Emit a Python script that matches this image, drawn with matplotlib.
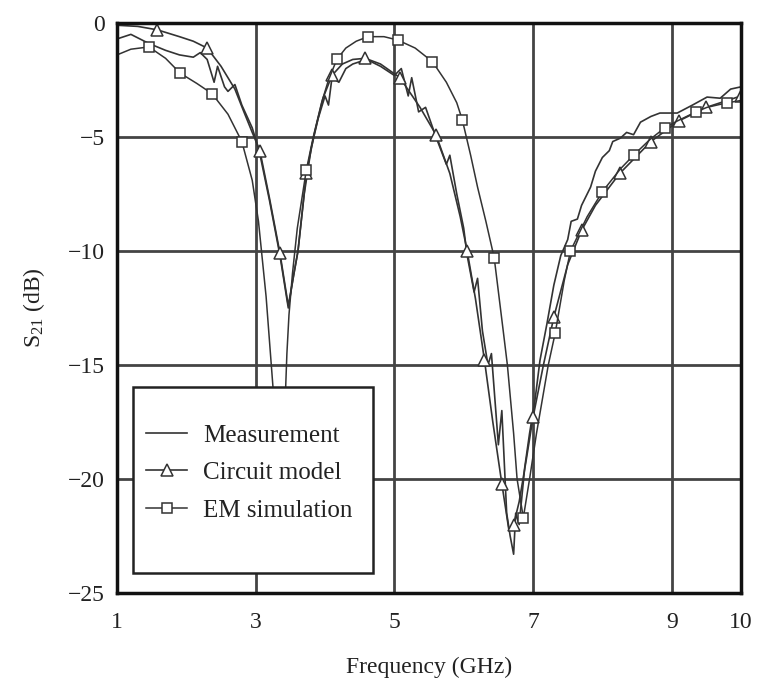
import matplotlib
matplotlib.use("Agg")
import matplotlib.pyplot as plt
from matplotlib.patches import Rectangle

# Measured S21 (noisy curve)
meas_f = [1.0, 1.2, 1.46, 1.7, 1.9, 2.1, 2.2, 2.3, 2.4, 2.45, 2.55, 2.6, 2.7, 2.8, 2.95,
          3.05, 3.2, 3.35, 3.47, 3.55, 3.61, 3.7, 3.8, 3.9, 4.0, 4.05, 4.1, 4.2, 4.3, 4.4,
          4.6, 4.8, 5.0, 5.1, 5.2, 5.25, 5.35, 5.45, 5.6, 5.75, 5.8, 5.9, 6.0, 6.05, 6.15,
          6.2, 6.27, 6.35, 6.4, 6.5, 6.55, 6.62, 6.67, 6.72, 6.75, 6.8, 6.88, 6.95, 7.03,
          7.1, 7.2, 7.3, 7.4, 7.5, 7.55, 7.64, 7.7, 7.83, 7.9, 8.0, 8.1, 8.15, 8.26, 8.35,
          8.45, 8.55, 8.7, 8.83, 9.08, 9.3, 9.51, 9.7, 9.85, 10.0]
meas_db = [-0.7, -0.5, -0.9, -1.2, -1.4, -1.5, -1.3, -1.6, -2.6, -1.9, -2.8, -3.0, -2.7, -3.6, -4.6,
           -5.6, -7.8, -10.2, -12.5, -11.0, -10.0, -7.5, -5.5, -4.2, -3.2, -3.6, -2.4, -2.6, -2.0, -1.8,
           -1.6, -1.9, -2.3, -2.0, -3.2, -2.4, -3.9, -3.7, -5.0, -6.2, -5.8, -7.5, -9.0, -10.2, -11.8,
           -11.2, -13.5, -15.0, -14.5, -18.5, -17.0, -21.5, -22.5, -23.3, -21.5, -22.0, -19.5, -18.0, -16.5,
           -14.8, -13.2, -11.5, -10.2, -9.5, -8.7, -8.6, -8.0, -7.2, -6.5, -5.9, -5.6, -5.2, -5.05, -4.8,
           -4.9, -4.35, -4.1, -3.95, -3.95, -3.6, -3.25, -3.3, -2.9, -2.8]

# Circuit model
circ_f = [1.0, 1.3, 1.58, 1.9, 2.1, 2.3, 2.5, 2.7, 2.83, 2.95, 3.06, 3.2, 3.35, 3.47, 3.54,
          3.61, 3.73, 3.85, 3.97, 4.1, 4.25, 4.4, 4.58, 4.8, 5.08, 5.37, 5.6, 5.8, 5.95, 6.05,
          6.17, 6.3, 6.42, 6.55, 6.65, 6.72, 6.8, 6.9, 7.0, 7.15, 7.3, 7.5, 7.7, 7.9, 8.25,
          8.7, 9.1, 9.5, 10.0]
circ_db = [-0.1, -0.15, -0.3, -0.6, -0.8, -1.1, -1.9, -2.9, -3.9, -4.8, -5.6, -7.7, -10.1, -12.4, -11.2,
           -10.0, -6.6, -4.8, -3.3, -2.3, -1.8, -1.6, -1.55, -1.8, -2.4, -3.7, -4.9, -6.6, -8.5, -10.0,
           -12.1, -14.8, -17.5, -20.2, -22.2, -22.0, -21.0, -19.2, -17.3, -15.0, -12.9, -10.6, -9.1, -8.0, -6.6,
           -5.2, -4.3, -3.7, -3.2]
circ_marks = [2, 5, 10, 12, 16, 19, 22, 24, 26, 29, 31, 33, 35, 38, 40, 42, 44, 45, 46, 47, 48]

# EM simulation
em_f = [1.0, 1.2, 1.46, 1.7, 1.91, 2.15, 2.37, 2.6, 2.8, 2.95, 3.04, 3.15, 3.25, 3.34, 3.42,
        3.45, 3.48, 3.53, 3.6, 3.73, 3.83, 3.95, 4.05, 4.17, 4.3, 4.45, 4.62, 4.85, 5.05, 5.3,
        5.55, 5.75, 5.9, 5.98, 6.1, 6.2, 6.32, 6.44, 6.57, 6.63, 6.72, 6.77, 6.86, 6.95, 7.05,
        7.22, 7.32, 7.45, 7.54, 7.78, 8.0, 8.26, 8.45, 8.69, 8.9, 9.08, 9.35, 9.51, 9.8, 10.0]
em_db = [-1.4, -1.15, -1.05, -1.55, -2.2, -2.65, -3.1, -4.0, -5.2, -6.9, -8.7, -12.0, -16.0, -19.0, -17.0,
         -14.5, -12.8, -11.0, -9.0, -6.45, -5.0, -3.5, -2.5, -1.6, -1.1, -0.8, -0.6, -0.6, -0.75, -1.1,
         -1.7, -2.6, -3.5, -4.25, -5.8, -7.2, -8.7, -10.3, -13.5, -15.0, -18.0, -20.0, -21.7, -20.0, -18.0,
         -15.0, -13.6, -11.3, -10.0, -8.5, -7.4, -6.4, -5.8, -5.1, -4.6, -4.3, -3.9, -3.7, -3.5, -3.4]
em_marks = [2, 4, 6, 8, 19, 23, 26, 28, 30, 33, 37, 42, 46, 48, 50, 52, 54, 56, 58]

x_ticks = [1, 3, 5, 7, 9, 10]
y_ticks = [0, -5, -10, -15, -20, -25]

plt.rcParams["font.family"] = ["Liberation Serif", "DejaVu Serif"]
plt.rcParams["mathtext.default"] = "regular"

fig = plt.figure(figsize=(7.57, 6.9), dpi=100)
ax = fig.add_axes([0.1546, 0.1406, 0.8243, 0.8261])

lc = "#333333"
ax.plot(meas_f, meas_db, color=lc, lw=1.2, label="Measurement")
ax.plot(circ_f, circ_db, color=lc, lw=1.2, marker="^", markevery=circ_marks, ms=8,
        mfc="white", mec=lc, mew=1.1, label="Circuit model")
ax.plot(em_f, em_db, color=lc, lw=1.1, marker="s", markevery=em_marks, ms=6.5,
        mfc="white", mec=lc, mew=1.1, label="EM simulation")

ax.set_xlim(1, 10)
ax.set_ylim(-25, 0)
ax.set_xticks(x_ticks)
ax.set_yticks(y_ticks)
ax.tick_params(length=0, labelsize=17, colors="#222222")
ax.tick_params(axis="x", pad=14)
ax.tick_params(axis="y", pad=9)
ax.grid(True, color="#444444", lw=2)
ax.set_axisbelow(True)
for s in ax.spines.values():
    s.set_linewidth(2.5)
    s.set_color("#111111")

ax.set_xlabel("Frequency (GHz)", fontsize=17, color="#222222", labelpad=17)
ax.set_ylabel("S$_{21}$ (dB)", fontsize=17, color="#222222", labelpad=15)

# legend box, larger than the entries
box = Rectangle((0.026, 0.035), 0.384, 0.326, transform=ax.transAxes,
                facecolor="white", edgecolor="#222222", lw=1.8, zorder=5)
ax.add_patch(box)
leg = ax.legend(loc="center left", bbox_to_anchor=(0.0465, 0.2105), frameon=False,
                fontsize=18, handlelength=1.65, handletextpad=0.62, labelspacing=0.6,
                borderpad=0, borderaxespad=0)
leg.set_zorder(6)
for t in leg.get_texts():
    t.set_color("#222222")

fig.savefig("out.png", dpi=100)
